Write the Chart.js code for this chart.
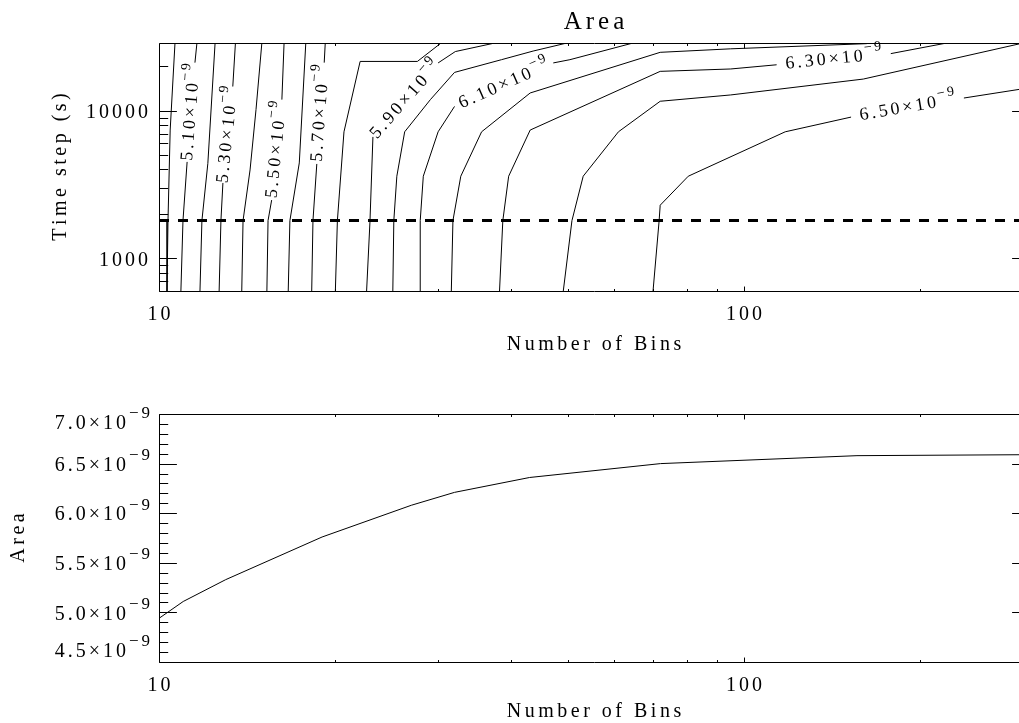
<!DOCTYPE html>
<html>
<head>
<meta charset="utf-8">
<script src="https://cdn.jsdelivr.net/npm/chart.js@4/dist/chart.umd.min.js"></script>
<style>
  html, body { margin: 0; padding: 0; background: #fff; overflow: hidden; }
  #wrap { position: relative; width: 1019px; height: 723px; overflow: hidden; background: #fff; }
  canvas { position: absolute; left: 0; }
  #topPanel { top: 0; }
  #bottomPanel { top: 360px; }
</style>
</head>
<body>
<div id="wrap">
  <canvas id="topPanel" width="1040" height="360"></canvas>
  <canvas id="bottomPanel" width="1040" height="363"></canvas>
</div>
<script>
// ---------- axis ranges and tick labels ----------
const binRange = [10, 307];
const stepRange = [600, 28800];
const areaRange = [4.5e-9, 7.0e-9];
const binTickLabels = [10, 100];
const stepTickLabels = [1000, 10000];
const areaTickLabels = [4.5e-9, 5.0e-9, 5.5e-9, 6.0e-9, 6.5e-9, 7.0e-9];

// ---------- contour levels (area in units of 1e-9) ----------
const contourLevels = [5.00, 5.10, 5.20, 5.30, 5.40, 5.50, 5.60, 5.70,
                       5.80, 5.90, 6.00, 6.10, 6.20, 6.30, 6.40, 6.50];
const labelledLevels = [5.10, 5.30, 5.50, 5.70, 5.90, 6.10, 6.30, 6.50];

// contour paths as [number of bins, time step (s)]; null marks the break holding the label
const level500 = [[10.65, 28800], [10.45, 7400], [10.36, 1800], [10.32, 600]];
const level510 = [[11.61, 28800], [11.52, 21200], null, [11.17, 4500], [10.99, 1800], [10.90, 600]];
const level520 = [[12.47, 28800], [12.12, 4400], [11.84, 1800], [11.75, 600]];
const level530 = [[13.51, 28800], [13.37, 14600], null, [12.86, 3240], [12.76, 1800], [12.67, 600]];
const level540 = [[14.99, 28800], [14.65, 10200], [14.31, 3970], [13.92, 1800], [13.85, 600]];
const level550 = [[16.36, 28800], [16.22, 11900], null, [15.58, 2480], [15.36, 1800], [15.29, 600]];
const level560 = [[17.82, 28800], [17.37, 4430], [16.74, 1800], [16.63, 600]];
const level570 = [[19.24, 28800], [19.16, 21200], null, [18.61, 4360], [18.33, 1800], [18.24, 600]];
const level580 = [[30.35, 28800], [27.65, 21600], [22.07, 21600], [20.71, 7200], [20.18, 1800], [20.02, 600]];
const level590 = [[22.64, 600], [22.94, 1760], [23.21, 6650], null, [30.0, 21100], [32.1, 25200], [37.5, 28800]];
const level600 = [[25.1, 600], [25.2, 1800], [25.5, 3600], [26.3, 7200], [29.1, 11900], [32.0, 18200],
                  [38.5, 22200], [43.6, 25400], [49.8, 28800]];
const level610 = [[27.96, 600], [27.96, 1800], [28.3, 3600], [30.0, 7200], [32.0, 10700], null,
                  [47.2, 21100], [50.4, 22200], [64.6, 28800]];
const level620 = [[31.6, 600], [31.8, 1800], [32.8, 3600], [35.6, 7200], [43.1, 13200], [71.9, 24900],
                  [94.9, 26300], [161.8, 28500], [164.2, 28800]];
const level630 = [[38.2, 600], [38.7, 1800], [39.6, 3600], [43.1, 7400], [71.9, 18500], [94.9, 19200],
                  [113.7, 20500], null, [178.2, 24400], [222.1, 28800]];
const level640 = [[49.1, 600], [50.8, 1800], [53.1, 3600], [61.0, 7200], [71.9, 11600], [94.9, 12800],
                  [159.9, 16400], [300, 28800]];
const level650 = [[69.9, 600], [71.6, 1800], [71.9, 2290], [80.3, 3600], [117.6, 7200], [152.4, 9060], null,
                  [237.6, 12200], [307, 14300]];

const contourPaths = [level500, level510, level520, level530, level540, level550, level560, level570,
                      level580, level590, level600, level610, level620, level630, level640, level650];

// time step used for the lower panel
const refStep = 1800;

// ---------- lower panel: area against number of bins ----------
const lineBins = [10, 11, 13, 19, 27, 32, 43, 72, 156, 307];
const lineArea = [4.94e-9, 5.11e-9, 5.33e-9, 5.76e-9, 6.08e-9, 6.21e-9, 6.36e-9, 6.50e-9, 6.58e-9, 6.59e-9];

// ---------- text helpers ----------
const SERIF = '"Liberation Serif", "Times New Roman", serif';

function spacedWidth(ctx, str, size, spacing) {
  ctx.font = size + 'px ' + SERIF;
  let w = 0;
  for (const ch of str) w += ctx.measureText(ch).width + spacing;
  return w - spacing;
}
function drawSpaced(ctx, str, x, y, size, spacing, align) {
  const w = spacedWidth(ctx, str, size, spacing);
  let cx = align === 'center' ? x - w / 2 : align === 'right' ? x - w : x;
  ctx.font = size + 'px ' + SERIF;
  ctx.textAlign = 'left';
  ctx.textBaseline = 'middle';
  for (const ch of str) {
    ctx.fillText(ch, cx, y);
    cx += ctx.measureText(ch).width + spacing;
  }
  return w;
}
// mantissa with a raised exponent, e.g. 5.10×10⁻⁹
function sciParts(value, digits) {
  return { mant: (value / 1e-9).toFixed(digits) + '\u00d710', exp: '\u22129' };
}
function sciWidth(ctx, p, s) {
  return spacedWidth(ctx, p.mant, s.size, s.spacing) + s.gap + spacedWidth(ctx, p.exp, s.expSize, s.expSpacing);
}
function drawSci(ctx, p, x, y, s) {
  const w1 = drawSpaced(ctx, p.mant, x, y, s.size, s.spacing, 'left');
  drawSpaced(ctx, p.exp, x + w1 + s.gap, y - s.raise, s.expSize, s.expSpacing, 'left');
}

// ---------- tick generators from a scale's range ----------
function logTicks(min, max) {
  const out = [];
  for (let e = Math.floor(Math.log10(min)); e <= Math.ceil(Math.log10(max)); e++) {
    for (let k = 1; k <= 9; k++) {
      const v = k * Math.pow(10, e);
      if (v >= min * 0.9999 && v <= max * 1.0001) out.push({ v, major: k === 1 });
    }
  }
  return out;
}
function areaTicks(min, max) {
  const out = [];
  for (let i = Math.round(min / 1e-10); i <= Math.round(max / 1e-10); i++) {
    out.push({ v: i * 1e-10, major: i % 5 === 0 });
  }
  return out;
}

// ---------- frame: box, inward ticks on all four sides, labels, titles ----------
const idlFrame = {
  id: 'idlFrame',
  afterDatasetsDraw(chart, args, o) {
    const { ctx, chartArea: a, scales } = chart;
    const xs = scales.x, ys = scales.y;
    const L = Math.round(a.left) + 0.5, R = Math.round(a.right) + 0.5;
    const T = Math.round(a.top) + 0.5, B = Math.round(a.bottom) + 0.5;
    const h = a.bottom - a.top, w = a.right - a.left;
    ctx.save();
    ctx.strokeStyle = '#000';
    ctx.fillStyle = '#000';
    ctx.lineWidth = 1;
    ctx.beginPath();
    ctx.rect(L, T, R - L, B - T);
    const xLen = 0.02 * h, yLen = 0.02 * w;
    for (const t of logTicks(xs.min, xs.max)) {
      const px = Math.round(xs.getPixelForValue(t.v)) + 0.5;
      const len = t.major ? xLen : xLen / 2;
      ctx.moveTo(px, B); ctx.lineTo(px, B - len);
      ctx.moveTo(px, T); ctx.lineTo(px, T + len);
    }
    const yt = o.yLog ? logTicks(ys.min, ys.max) : areaTicks(ys.min, ys.max);
    for (const t of yt) {
      const py = Math.round(ys.getPixelForValue(t.v)) + 0.5;
      const len = t.major ? yLen : yLen / 2;
      ctx.moveTo(L, py); ctx.lineTo(L + len, py);
      ctx.moveTo(R, py); ctx.lineTo(R - len, py);
    }
    ctx.stroke();

    // x tick labels
    for (const v of binTickLabels) {
      drawSpaced(ctx, String(v), xs.getPixelForValue(v), a.bottom + 24, 20, 3, 'center');
    }
    // y tick labels
    if (o.yLog) {
      for (const v of stepTickLabels) {
        drawSpaced(ctx, String(v), a.left - 11, ys.getPixelForValue(v) + 2, 20, 3, 'right');
      }
    } else {
      const s = { size: 20, spacing: 3, expSize: 17, expSpacing: 3, gap: 3, raise: 10 };
      for (const v of areaTickLabels) {
        const p = sciParts(v, 1);
        let cy = ys.getPixelForValue(v) + 2;
        cy = Math.min(Math.max(cy, a.top + 10), a.bottom - 10);
        drawSci(ctx, p, a.left - 9 - sciWidth(ctx, p, s), cy, s);
      }
    }
    // axis titles
    const cx = (a.left + a.right) / 2;
    drawSpaced(ctx, 'Number of Bins', cx, a.bottom + o.xTitleOffset, 20, 3.5, 'center');
    ctx.save();
    ctx.translate(o.yTitleX, (a.top + a.bottom) / 2);
    ctx.rotate(-Math.PI / 2);
    drawSpaced(ctx, o.yTitle, 0, 0, 20, 3.5, 'center');
    ctx.restore();
    if (o.title) drawSpaced(ctx, o.title, cx, a.top - 21, 25, 4, 'center');
    ctx.restore();
  }
};

// ---------- contour level labels written into the breaks of the lines ----------
const contourLabels = {
  id: 'contourLabels',
  afterDatasetsDraw(chart) {
    const { ctx, scales: { x, y } } = chart;
    const s = { size: 18, spacing: 3, expSize: 14, expSpacing: 2.5, gap: 2, raise: 8 };
    ctx.save();
    ctx.fillStyle = '#000';
    for (const ds of chart.data.datasets) {
      if (ds.levelLabel === undefined) continue;
      const g = ds.data.findIndex(p => p.y === null);
      if (g < 1) continue;
      let p0 = ds.data[g - 1], p1 = ds.data[g + 1];
      let x0 = x.getPixelForValue(p0.x), y0 = y.getPixelForValue(p0.y);
      let x1 = x.getPixelForValue(p1.x), y1 = y.getPixelForValue(p1.y);
      if (x1 < x0) { [x0, x1] = [x1, x0]; [y0, y1] = [y1, y0]; }
      const ang = Math.atan2(y1 - y0, x1 - x0);
      const parts = sciParts(ds.levelLabel * 1e-9, 2);
      const w = sciWidth(ctx, parts, s);
      ctx.save();
      ctx.translate((x0 + x1) / 2, (y0 + y1) / 2);
      ctx.rotate(ang);
      drawSci(ctx, parts, -w / 2, 0, s);
      ctx.restore();
    }
    ctx.restore();
  }
};

// ---------- datasets ----------
function toPoints(path) {
  const out = [];
  path.forEach((p, i) => {
    if (p === null) out.push({ x: path[i - 1][0], y: null });
    else out.push({ x: p[0], y: p[1] });
  });
  return out;
}
const contourSets = contourPaths.map((path, i) => {
  const lvl = contourLevels[i];
  const ds = {
    data: toPoints(path),
    borderColor: '#000', borderWidth: 1, pointRadius: 0, showLine: true,
    spanGaps: false, tension: 0, fill: false
  };
  if (labelledLevels.some(v => Math.abs(v - lvl) < 1e-6)) ds.levelLabel = lvl;
  return ds;
});
contourSets.push({
  data: [{ x: binRange[0], y: refStep }, { x: binRange[1], y: refStep }],
  borderColor: '#000', borderWidth: 3, borderDash: [10, 9], pointRadius: 0, showLine: true, fill: false
});

const hiddenScale = (type, range) => ({ type, min: range[0], max: range[1], display: false });
const base = {
  responsive: false, animation: false, events: [],
  plugins: { legend: { display: false }, tooltip: { enabled: false } }
};

new Chart(document.getElementById('topPanel'), {
  type: 'scatter',
  data: { datasets: contourSets },
  options: Object.assign({}, base, {
    layout: { padding: { left: 159, right: 11, top: 43, bottom: 69 } },
    scales: { x: hiddenScale('logarithmic', binRange), y: hiddenScale('logarithmic', stepRange) },
    plugins: Object.assign({}, base.plugins, {
      idlFrame: { yLog: true, yTitle: 'Time step (s)', yTitleX: 61, xTitleOffset: 54, title: 'Area' }
    })
  }),
  plugins: [contourLabels, idlFrame]
});

new Chart(document.getElementById('bottomPanel'), {
  type: 'scatter',
  data: {
    datasets: [{
      data: lineBins.map((b, i) => ({ x: b, y: lineArea[i] })),
      borderColor: '#000', borderWidth: 1, pointRadius: 0, showLine: true, tension: 0, fill: false
    }]
  },
  options: Object.assign({}, base, {
    layout: { padding: { left: 159, right: 11, top: 54, bottom: 61 } },
    scales: { x: hiddenScale('logarithmic', binRange), y: hiddenScale('linear', areaRange) },
    plugins: Object.assign({}, base.plugins, {
      idlFrame: { yLog: false, yTitle: 'Area', yTitleX: 19, xTitleOffset: 50 }
    })
  }),
  plugins: [idlFrame]
});
</script>
</body>
</html>
